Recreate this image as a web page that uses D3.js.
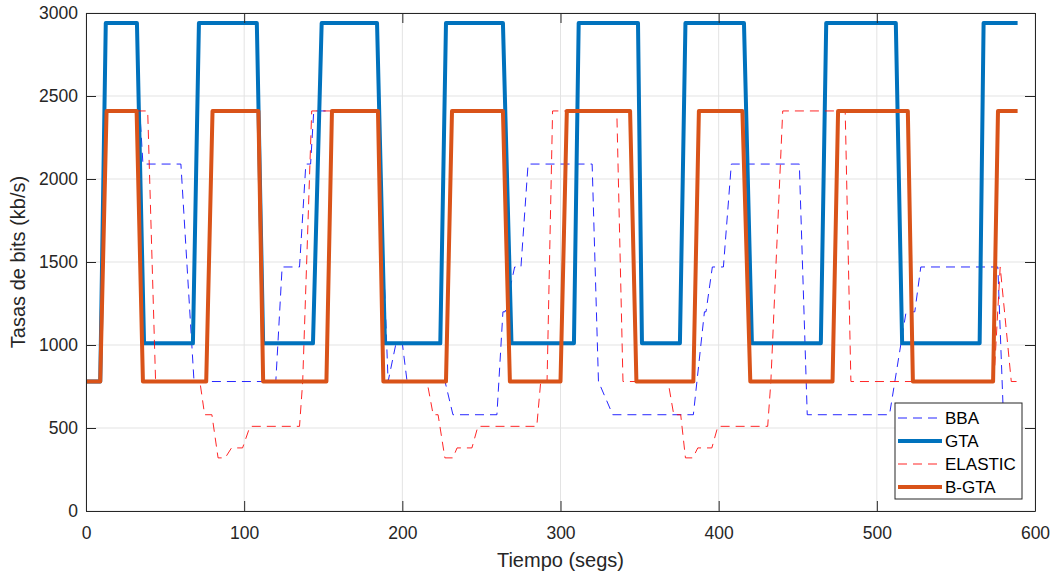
<!DOCTYPE html>
<html>
<head>
<meta charset="utf-8">
<script src="https://cdn.jsdelivr.net/npm/d3@7/dist/d3.min.js"></script>
<style>
  body { margin: 0; background: #ffffff; }
  svg { display: block; font-family: "Liberation Sans", Arial, Helvetica, sans-serif; }
</style>
</head>
<body>
<svg id="chart" width="1055" height="575"></svg>
<script>
// Axis ticks
const xTicks = [0, 100, 200, 300, 400, 500, 600];
const yTicks = [0, 500, 1000, 1500, 2000, 2500, 3000];

// Legend entries, in drawing order
const seriesNames = ["BBA", "GTA", "ELASTIC", "B-GTA"];

// BBA: time (s) and selected bitrate (kb/s)
const bbaTime = [0, 9, 13, 34, 36, 60, 68.3, 120, 124, 135, 139, 142, 144, 184.6, 191, 196, 200, 203,
  227, 232, 259.8, 263.6, 265, 271, 275, 279.5, 320, 324, 333, 384, 391, 392, 396, 403, 408,
  451, 456, 508, 518.5, 524, 527.8, 576.5, 580, 589];
const bbaRate = [780, 780, 2410, 2410, 2090, 2090, 780, 780, 1470, 1470, 2090, 2090, 2410, 2410, 780, 1010, 1010, 780,
  780, 580, 580, 1200, 1200, 1470, 1470, 2090, 2090, 780, 580, 580, 1200, 1200, 1470, 1470, 2090,
  2090, 580, 580, 1200, 1200, 1470, 1470, 580, 580];

// GTA
const gtaTime = [0, 9, 12.5, 32.2, 36.7, 67.6, 71.4, 108, 112, 143.5, 149, 184, 189, 224, 227.6, 263.6, 269,
  308.5, 311.5, 349, 351.5, 375.5, 379, 416, 421, 464.6, 468, 512, 516, 565, 567.5, 589];
const gtaRate = [780, 780, 2940, 2940, 1010, 1010, 2940, 2940, 1010, 1010, 2940, 2940, 1010, 1010, 2940, 2940, 1010,
  1010, 2940, 2940, 1010, 1010, 2940, 2940, 1010, 1010, 2940, 2940, 1010, 1010, 2940, 2940];

// ELASTIC
const elasticTime = [0, 9, 13, 39, 44, 72, 75, 79.6, 83.5, 88, 92, 99, 103.7, 135, 137, 142.7, 184.6, 188,
  215.6, 219.5, 222.6, 226.9, 232, 234.6, 244, 247.8, 285, 287.5, 291.5, 295, 335.6, 339.5,
  368, 371.6, 376, 379, 383.7, 386.8, 395.7, 399.5, 431, 433, 440.5, 480, 483.6, 574, 578, 585, 589];
const elasticRate = [780, 780, 2410, 2410, 780, 780, 580, 580, 320, 320, 380, 380, 510, 510, 780, 2410, 2410, 780,
  780, 580, 580, 320, 320, 380, 380, 510, 510, 780, 780, 2410, 2410, 780,
  780, 580, 580, 320, 320, 380, 380, 510, 510, 780, 2410, 2410, 780, 780, 1470, 780, 780];

// B-GTA
const bgtaTime = [0, 9, 13, 32, 36, 76, 80, 109, 112, 152, 155.5, 184.6, 188, 227.6, 231.4, 263.6, 268,
  300, 304, 344, 348, 384, 387.5, 415, 420, 472, 475.5, 519.6, 522.8, 573.5, 576.6, 589];
const bgtaRate = [780, 780, 2410, 2410, 780, 780, 2410, 2410, 780, 780, 2410, 2410, 780, 780, 2410, 2410, 780,
  780, 2410, 2410, 780, 780, 2410, 2410, 780, 780, 2410, 2410, 780, 780, 2410, 2410];

const svg = d3.select("#chart");
const plot = { left: 86, right: 1035, top: 13, bottom: 511 };

const x = d3.scaleLinear().domain([0, 600]).range([plot.left, plot.right]);
const y = d3.scaleLinear().domain([0, 3000]).range([plot.bottom, plot.top]);

const axisColor = "#262626";
const tickLen = 10;

// Grid
const grid = svg.append("g");
grid.selectAll("line.gx").data(xTicks).join("line")
  .attr("x1", d => x(d)).attr("x2", d => x(d))
  .attr("y1", plot.top).attr("y2", plot.bottom)
  .attr("stroke", "#e3e3e3").attr("stroke-width", 1);
grid.selectAll("line.gy").data(yTicks).join("line")
  .attr("x1", plot.left).attr("x2", plot.right)
  .attr("y1", d => y(d)).attr("y2", d => y(d))
  .attr("stroke", "#e3e3e3").attr("stroke-width", 1);

// Series
const lineGen = d3.line().x(d => x(d[0])).y(d => y(d[1]));
const zipSeries = (t, v) => t.map((ti, i) => [ti, v[i]]);

const series = [
  { name: "BBA", data: zipSeries(bbaTime, bbaRate), color: "#0000ff", width: 1, dash: "9,6" },
  { name: "GTA", data: zipSeries(gtaTime, gtaRate), color: "#0072bd", width: 4, dash: null },
  { name: "ELASTIC", data: zipSeries(elasticTime, elasticRate), color: "#ff0000", width: 1, dash: "9,6" },
  { name: "B-GTA", data: zipSeries(bgtaTime, bgtaRate), color: "#d95319", width: 4, dash: null }
];

const lines = svg.append("g");
series.forEach(s => {
  lines.append("path")
    .datum(s.data)
    .attr("d", lineGen)
    .attr("fill", "none")
    .attr("stroke", s.color)
    .attr("stroke-width", s.width)
    .attr("stroke-linejoin", "round")
    .attr("stroke-dasharray", s.dash)
    .attr("opacity", s.dash ? 0.85 : 1);
});

// Axes with inward ticks on all four sides
const fmt = d3.format("d");
const styleAxis = g => {
  g.select(".domain").attr("stroke", axisColor).attr("stroke-width", 1);
  g.selectAll(".tick line").attr("stroke", axisColor).attr("stroke-width", 1);
  g.selectAll(".tick text").attr("fill", "#262626").attr("font-size", 17.5)
    .attr("font-family", "'Liberation Sans', Arial, sans-serif");
};

svg.append("g").attr("transform", `translate(0,${plot.bottom})`)
  .call(d3.axisBottom(x).tickValues(xTicks).tickFormat(fmt).tickSizeInner(-tickLen).tickSizeOuter(0).tickPadding(16))
  .call(styleAxis);
svg.append("g").attr("transform", `translate(0,${plot.top})`)
  .call(d3.axisTop(x).tickValues(xTicks).tickFormat("").tickSizeInner(-tickLen).tickSizeOuter(0))
  .call(styleAxis);
svg.append("g").attr("transform", `translate(${plot.left},0)`)
  .call(d3.axisLeft(y).tickValues(yTicks).tickFormat(fmt).tickSizeInner(-tickLen).tickSizeOuter(0).tickPadding(8))
  .call(styleAxis);
svg.append("g").attr("transform", `translate(${plot.right},0)`)
  .call(d3.axisRight(y).tickValues(yTicks).tickFormat("").tickSizeInner(-tickLen).tickSizeOuter(0))
  .call(styleAxis);

// Axis titles
svg.append("text")
  .attr("x", (plot.left + plot.right) / 2).attr("y", 567)
  .attr("text-anchor", "middle").attr("font-size", 20).attr("fill", "#262626")
  .text("Tiempo (segs)");
svg.append("text")
  .attr("transform", `translate(25,${(plot.top + plot.bottom) / 2}) rotate(-90)`)
  .attr("text-anchor", "middle").attr("font-size", 20).attr("fill", "#262626")
  .text("Tasas de bits (kb/s)");

// Legend
const legend = svg.append("g").attr("transform", "translate(895,403)");
legend.append("rect")
  .attr("width", 127).attr("height", 96)
  .attr("fill", "#ffffff").attr("stroke", axisColor).attr("stroke-width", 1);
series.forEach((s, i) => {
  const yy = 15 + i * 23;
  legend.append("line")
    .attr("x1", 3).attr("x2", 47).attr("y1", yy).attr("y2", yy)
    .attr("stroke", s.color).attr("stroke-width", s.width)
    .attr("stroke-dasharray", s.dash).attr("opacity", s.dash ? 0.85 : 1);
  legend.append("text")
    .attr("x", 50).attr("y", yy).attr("dy", "0.35em")
    .attr("font-size", 17).attr("fill", "#000000")
    .text(seriesNames[i]);
});
</script>
</body>
</html>
